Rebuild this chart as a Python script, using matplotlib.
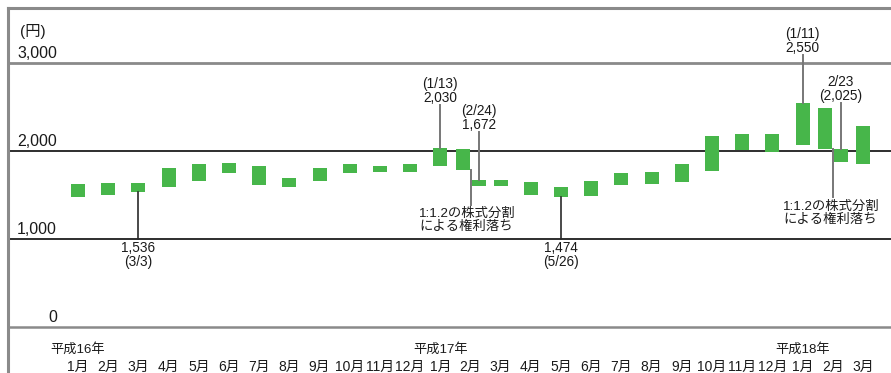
import matplotlib
matplotlib.use("Agg")
import matplotlib.pyplot as plt
from matplotlib.lines import Line2D

plt.rcParams["font.family"] = ["Liberation Sans", "Noto Sans CJK JP"]

# ---- data -------------------------------------------------------------
month_labels = ["1月", "2月", "3月", "4月", "5月", "6月", "7月", "8月", "9月",
                "10月", "11月", "12月",
                "1月", "2月", "3月", "4月", "5月", "6月", "7月", "8月", "9月",
                "10月", "11月", "12月",
                "1月", "2月", "3月"]
year_labels = ["平成16年", "平成17年", "平成18年"]
year_start_index = [0, 12, 24]

# monthly high / low (yen); for split months these are the pre-split figures
high = [1625, 1636, 1636, 1807, 1852, 1864, 1830, 1693, 1807, 1852, 1830, 1852,
        2030, 2023, 1670, 1648, 1591, 1659, 1750, 1761, 1852, 2170, 2193, 2193,
        2550, 2489, 2284]
low = [1477, 1500, 1536, 1591, 1659, 1750, 1614, 1591, 1659, 1750, 1761, 1761,
       1830, 1784, 1602, 1500, 1474, 1489, 1614, 1625, 1648, 1773, 2011, 1989,
       2068, 2023, 1852]

# post-split (ex-rights) ranges in the split months
split_month = [13, 25]
split_high = [1672, 2025]
split_low = [1602, 1875]
split_note = ["1:1.2の株式分割", "による権利落ち"]

# noted highs / lows
note_month = [2, 12, 13, 16, 24, 25]
note_value = [1536, 2030, 1672, 1474, 2550, 2025]
note_date = ["3/3", "1/13", "2/24", "5/26", "1/11", "2/23"]
note_is_low = [True, False, False, True, False, False]
note_post_split = [False, False, True, False, False, True]

y_ticks = [0, 1000, 2000, 3000]
y_tick_labels = ["0", "1,000", "2,000", "3,000"]
unit_label = "(円)"

# ---- layout -----------------------------------------------------------
W, H = 891, 373
fig = plt.figure(figsize=(W / 100, H / 100), dpi=100)
LEFT, TOP, BOTTOM = 8, 8, 327          # pixel frame of the plot area
X0, DX = 78, 30.19                      # pixel centre of first month, month pitch
PY = 0.088                              # pixels per yen

ax = fig.add_axes([LEFT / W, 1 - BOTTOM / H, 1 - LEFT / W, (BOTTOM - TOP) / H])
ax.set_xlim(-(X0 - LEFT) / DX, (W - X0) / DX)
ax.set_ylim(0, (BOTTOM - TOP) / PY)
ax.axis("off")


def py(p):
    """pixel row -> data y"""
    return (BOTTOM - p) / PY


def px(p):
    """pixel column -> data x"""
    return (p - X0) / DX


GREEN = "#47b64a"
TXT = "#1a1a1a"
BAR_W = 0.465
PRE_OFF, POST_OFF = -0.245, 0.27

# boxes
for i, (h, l) in enumerate(zip(high, low)):
    x = i + (PRE_OFF if i in split_month else 0)
    ax.bar(x, h - l, bottom=l, width=BAR_W, color=GREEN, linewidth=0, zorder=3)
for m, h, l in zip(split_month, split_high, split_low):
    ax.bar(m + POST_OFF, h - l, bottom=l, width=BAR_W, color=GREEN,
           linewidth=0, zorder=3)

# horizontal rules
ax.axhline(ax.get_ylim()[1], color="#8a8a8a", lw=2.2, clip_on=False, zorder=2)
ax.axhline(3000, color="#8a8a8a", lw=2.0, zorder=2)
ax.axhline(2000, color="#1e1e1e", lw=1.3, zorder=2)
ax.axhline(1000, color="#1e1e1e", lw=1.3, zorder=2)
ax.axhline(0, color="#8a8a8a", lw=1.8, clip_on=False, zorder=2)
fig.add_artist(Line2D([LEFT / W, LEFT / W], [0, 1 - TOP / H],
                      color="#8a8a8a", lw=2.2))

# y labels (sit just above their rules)
for v, s in zip(y_ticks, y_tick_labels):
    ax.text((57 - LEFT) / (W - LEFT), v + 5 / PY, s, transform=ax.get_yaxis_transform(),
            ha="right", va="baseline", fontsize=11.5, color=TXT)
ax.text((20 - LEFT) / (W - LEFT), py(36), unit_label, transform=ax.get_yaxis_transform(),
        ha="left", va="baseline", fontsize=11, color=TXT)

# month and year labels
xt = ax.get_xaxis_transform()
for i, s in enumerate(month_labels):
    ax.text(i, -(371 - BOTTOM) / (BOTTOM - TOP), s, transform=xt, ha="center",
            va="baseline", fontsize=10, color=TXT, clip_on=False)
for i, s in zip(year_start_index, year_labels):
    ax.text(i, -(353 - BOTTOM) / (BOTTOM - TOP), s, transform=xt, ha="center",
            va="baseline", fontsize=9.5, color=TXT, clip_on=False)

# noted highs / lows with leader lines
above_end_px = [None, 105, 132, None, 55, 103]
for k in range(len(note_month)):
    m, v, d = note_month[k], note_value[k], note_date[k]
    x = m + (POST_OFF if note_post_split[k] else 0)
    val_txt = f"{v:,}"
    if note_is_low[k]:
        end = 239
        ax.plot([x, x], [v, py(end)], color="#2a2a2a", lw=1.2, zorder=4)
        ax.text(x, py(end + 9), val_txt, ha="center", va="center", fontsize=9.8, color=TXT)
        ax.text(x, py(end + 23), f"({d})", ha="center", va="center", fontsize=9.8, color=TXT)
    else:
        end = above_end_px[k]
        ax.plot([x, x], [v, py(end)], color="#777777", lw=1.4, zorder=4)
        if note_post_split[k] and m == 25:
            first, second = d, f"({val_txt})"
        else:
            first, second = f"({d})", val_txt
        ax.text(x, py(end - 7), second, ha="center", va="center", fontsize=9.8, color=TXT)
        ax.text(x, py(end - 21), first, ha="center", va="center", fontsize=9.8, color=TXT)

# ex-rights notes
split_line_end_px = [205, 197]
split_text_left_px = [419, 783]
split_text_rows_px = [(214, 227), (207, 220)]
for j, m in enumerate(split_month):
    x = m + (PRE_OFF + BAR_W / 2 + POST_OFF - BAR_W / 2) / 2
    ax.plot([x, x], [low[m], py(split_line_end_px[j])], color="#777777", lw=1.4, zorder=4)
    for line, row in zip(split_note, split_text_rows_px[j]):
        ax.text(px(split_text_left_px[j]), py(row), line, ha="left", va="center",
                fontsize=9.6, color=TXT)

fig.savefig("out.png", dpi=100)
